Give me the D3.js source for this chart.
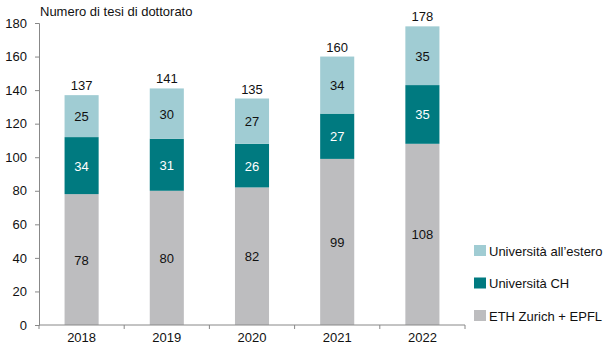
<!DOCTYPE html>
<html>
<head>
<meta charset="utf-8">
<script src="https://cdn.jsdelivr.net/npm/d3@7"></script>
<style>
  body { margin: 0; background: #fff; }
  svg { display: block; font-family: "Liberation Sans", Arial, sans-serif; }
</style>
</head>
<body>
<div id="chart"></div>
<script>
const width = 616;
const height = 345;

const years = ['2018', '2019', '2020', '2021', '2022'];
const ethEpfl = [78, 80, 82, 99, 108];
const uniCH = [34, 31, 26, 27, 35];
const uniEstero = [25, 30, 27, 34, 35];
const totals = [137, 141, 135, 160, 178];
const yTicks = [0, 20, 40, 60, 80, 100, 120, 140, 160, 180];

const seriesNames = ['ETH Zurich + EPFL', 'Università CH', 'Università all\u2019estero'];
const seriesColors = ['#bdbdbf', '#007a80', '#a0ccd3'];
const labelColors = ['#111', '#fff', '#111'];

const margin = { left: 39, right: 151, top: 23, bottom: 20 };

const xScale = d3.scaleBand()
    .domain(years)
    .range([margin.left, width - margin.right])
    .paddingInner(0.6)
    .paddingOuter(0.3);

const yScale = d3.scaleLinear()
    .domain([0, 180])
    .range([height - margin.bottom, margin.top]);

const rows = years.map((y, i) => ({ year: y, s0: ethEpfl[i], s1: uniCH[i], s2: uniEstero[i] }));
const stacked = d3.stack().keys(['s0', 's1', 's2'])(rows);

const svg = d3.select('#chart')
    .append('svg')
    .attr('width', width)
    .attr('height', height);

// bars
stacked.forEach((layer, k) => {
    const g = svg.append('g');
    g.selectAll('rect')
        .data(layer)
        .enter()
        .append('rect')
        .attr('x', (d) => xScale(d.data.year))
        .attr('y', (d) => yScale(d[1]))
        .attr('width', xScale.bandwidth())
        .attr('height', (d) => yScale(d[0]) - yScale(d[1]))
        .attr('fill', seriesColors[k]);

    g.selectAll('text')
        .data(layer)
        .enter()
        .append('text')
        .attr('x', (d) => xScale(d.data.year) + xScale.bandwidth() / 2)
        .attr('y', (d) => (yScale(d[0]) + yScale(d[1])) / 2 + 5)
        .attr('text-anchor', 'middle')
        .style('font-size', '13px')
        .attr('fill', labelColors[k])
        .text((d) => d[1] - d[0]);
});

// totals
svg.append('g')
    .selectAll('text')
    .data(years)
    .enter()
    .append('text')
    .attr('x', (d) => xScale(d) + xScale.bandwidth() / 2)
    .attr('y', (d, i) => yScale(totals[i]) - 5)
    .attr('text-anchor', 'middle')
    .style('font-size', '13px')
    .attr('fill', '#111')
    .text((d, i) => totals[i]);

// y axis
const yAxis = d3.axisLeft(yScale).tickValues(yTicks).tickSize(4).tickPadding(8);
const yG = svg.append('g')
    .attr('transform', `translate(${margin.left}, 0)`)
    .call(yAxis);
yG.select('.domain').attr('stroke', '#888');
yG.selectAll('.tick line').attr('stroke', '#888');
yG.selectAll('.tick text').style('font-size', '13px').attr('fill', '#111').attr('font-family', null);

// x axis: ticks at band edges
const step = xScale.step();
const xG = svg.append('g')
    .attr('transform', `translate(0, ${yScale(0)})`);
const x0 = margin.left;
const x1 = width - margin.right;
xG.append('line')
    .attr('x1', x0).attr('x2', x1)
    .attr('stroke', '#888');
d3.range(years.length + 1).forEach((i) => {
    const xx = x0 + (x1 - x0) * i / years.length;
    xG.append('line')
        .attr('x1', xx).attr('x2', xx)
        .attr('y1', 0).attr('y2', 4)
        .attr('stroke', '#888');
});
xG.selectAll('text')
    .data(years)
    .enter()
    .append('text')
    .attr('x', (d) => xScale(d) + xScale.bandwidth() / 2)
    .attr('y', 17)
    .attr('text-anchor', 'middle')
    .style('font-size', '13px')
    .attr('fill', '#111')
    .text((d) => d);

// title
svg.append('text')
    .attr('x', 40)
    .attr('y', 16)
    .style('font-size', '13px')
    .attr('fill', '#111')
    .text('Numero di tesi di dottorato');

// legend
const legendItems = [2, 1, 0];
const legend = svg.append('g').attr('transform', 'translate(474, 0)');
legendItems.forEach((k, j) => {
    const cy = 251 + j * 32.5;
    legend.append('rect')
        .attr('x', 0).attr('y', cy - 6)
        .attr('width', 12).attr('height', 11)
        .attr('fill', seriesColors[k]);
    legend.append('text')
        .attr('x', 15).attr('y', cy + 4.5)
        .style('font-size', '13px')
        .attr('fill', '#111')
        .text(seriesNames[k]);
});
</script>
</body>
</html>
